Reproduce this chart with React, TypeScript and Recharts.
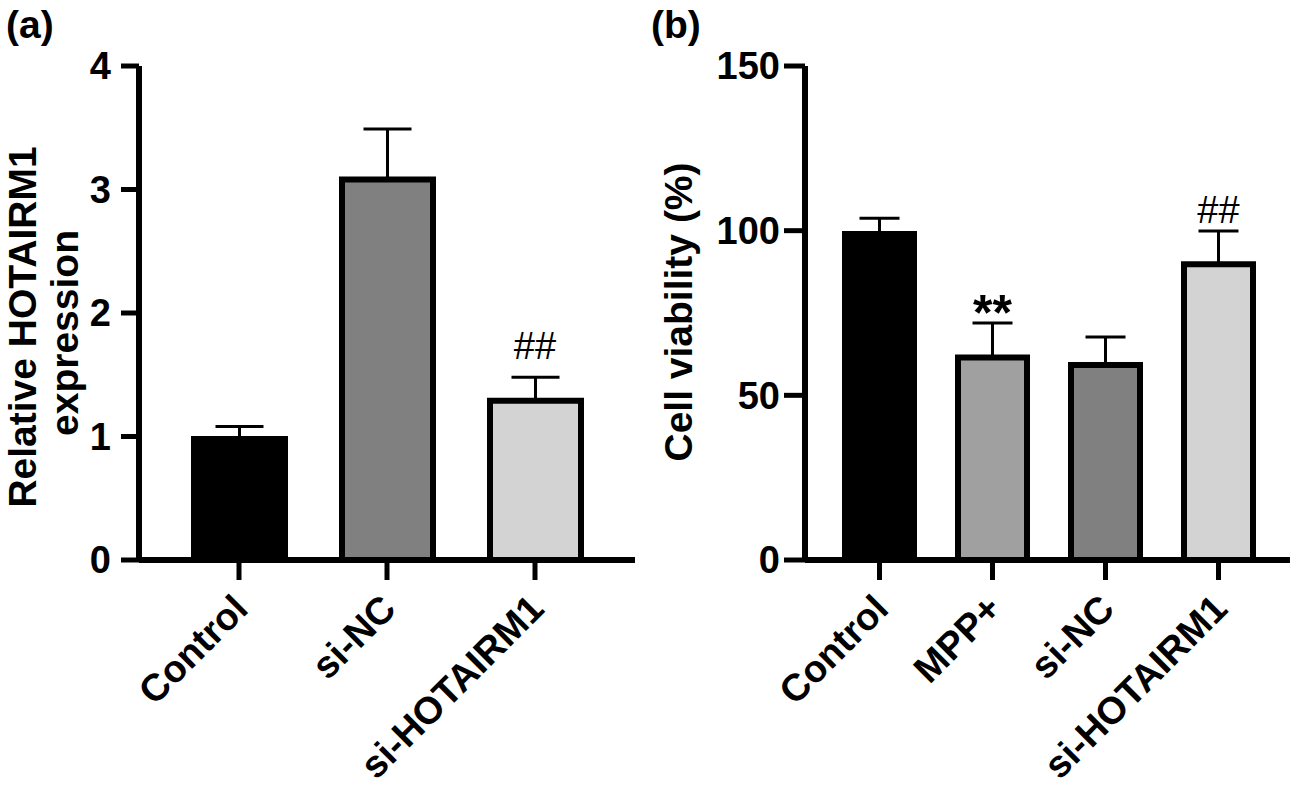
import React from 'react';
import { ComposedChart, Bar, Cell, ErrorBar, Line, XAxis, YAxis } from 'recharts';

const FONT = '"Liberation Sans", Arial, Helvetica, sans-serif';

// (a) relative HOTAIRM1 expression
const expressionGroups = ['Control', 'si-NC', 'si-HOTAIRM1'];
const expressionMeans = [0.98, 3.08, 1.29];
const expressionErrors = [0.1, 0.41, 0.19];
const expressionFills = ['#000000', '#808080', '#d3d3d3'];
const expressionMarks = ['', '', '##'];
const expressionMarkAt = [null, null, 1.63];
const expressionTicks = [0, 1, 2, 3, 4];

// (b) cell viability
const viabilityGroups = ['Control', 'MPP+', 'si-NC', 'si-HOTAIRM1'];
const viabilityMeans = [99, 61.5, 59.2, 89.8];
const viabilityErrors = [4.8, 10.5, 8.5, 10.1];
const viabilityFills = ['#000000', '#a0a0a0', '#808080', '#d3d3d3'];
const viabilityMarks = ['', '**', '', '##'];
const viabilityMarkAt = [null, 69.9, null, 102.2];
const viabilityTicks = [0, 50, 100, 150];

const buildRows = (groups: string[], means: number[], errors: number[], marks: string[], markAt: (number | null)[]) =>
  groups.map((group, i) => ({
    group,
    mean: means[i],
    err: [0, errors[i]],
    mark: marks[i],
    markAt: markAt[i],
  }));

const expressionData = buildRows(expressionGroups, expressionMeans, expressionErrors, expressionMarks, expressionMarkAt);
const viabilityData = buildRows(viabilityGroups, viabilityMeans, viabilityErrors, viabilityMarks, viabilityMarkAt);

const AngledTick = (props: any) => {
  const { x, y, payload } = props;
  const tx = x + 11;
  const ty = y + 29;
  return (
    <text
      x={tx}
      y={ty}
      transform={`rotate(-45 ${tx} ${ty})`}
      textAnchor="end"
      fontFamily={FONT}
      fontWeight="bold"
      fontSize={38}
      fill="#000"
    >
      {payload.value}
    </text>
  );
};

const renderMark = (props: any) => {
  const { cx, cy, payload, index } = props;
  if (cy == null || !payload || !payload.mark) return <g key={`m-${index}`} />;
  const star = payload.mark.includes('*');
  return (
    <text
      key={`m-${index}`}
      x={cx}
      y={cy}
      textAnchor="middle"
      fontFamily={FONT}
      fontSize={star ? 50 : 38}
      fontWeight={star ? 'bold' : 'normal'}
      fill="#000"
    >
      {payload.mark}
    </text>
  );
};

const tickStyle = { fill: '#000', fontSize: 38, fontWeight: 'bold' as const, fontFamily: FONT };

const axisTitle = (lines: { text: string; x: number; y: number }[]) => (props: any) => {
  const { viewBox } = props;
  const ox = viewBox ? viewBox.x : 0;
  return (
    <g>
      {lines.map((l) => (
        <text
          key={l.text}
          x={ox + l.x}
          y={l.y}
          transform={`rotate(-90 ${ox + l.x} ${l.y})`}
          textAnchor="middle"
          fontFamily={FONT}
          fontWeight="bold"
          fontSize={39}
          fill="#000"
        >
          {l.text}
        </text>
      ))}
    </g>
  );
};

export default function App() {
  return (
    <div style={{ position: 'absolute', left: 0, top: 0, width: 1301, height: 794, background: '#fff', fontFamily: FONT }}>
      <div style={{ position: 'absolute', left: 6, top: 3, fontSize: 39, fontWeight: 'bold' }}>(a)</div>
      <div style={{ position: 'absolute', left: 651, top: 3, fontSize: 39, fontWeight: 'bold' }}>(b)</div>

      <div style={{ position: 'absolute', left: 0, top: 0 }}>
        <ComposedChart width={650} height={794} data={expressionData} margin={{ top: 66, right: 15, left: 0, bottom: 0 }}>
          <XAxis
            dataKey="group"
            height={234}
            padding={{ left: 26, right: 26 }}
            axisLine={{ stroke: '#000', strokeWidth: 6 }}
            tickLine={{ stroke: '#000', strokeWidth: 5 }}
            tickSize={20}
            tick={<AngledTick />}
            interval={0}
          />
          <YAxis
            width={139}
            domain={[0, 4]}
            ticks={expressionTicks}
            axisLine={{ stroke: '#000', strokeWidth: 6 }}
            tickLine={{ stroke: '#000', strokeWidth: 5 }}
            tickSize={18}
            tickMargin={10}
            tick={tickStyle}
            label={axisTitle([
              { text: 'Relative HOTAIRM1', x: 36, y: 327 },
              { text: 'expression', x: 78, y: 333 },
            ])}
          />
          <Bar dataKey="mean" barSize={91} stroke="#000" strokeWidth={6} isAnimationActive={false}>
            {expressionData.map((d, i) => (
              <Cell key={d.group} fill={expressionFills[i]} />
            ))}
            <ErrorBar dataKey="err" width={24} stroke="#000" strokeWidth={3} direction="y" />
          </Bar>
          <Line dataKey="markAt" stroke="none" dot={renderMark} activeDot={false} isAnimationActive={false} />
        </ComposedChart>
      </div>

      <div style={{ position: 'absolute', left: 650, top: 0 }}>
        <ComposedChart width={651} height={794} data={viabilityData} margin={{ top: 66, right: 11, left: 0, bottom: 0 }}>
          <XAxis
            dataKey="group"
            height={234}
            padding={{ left: 18, right: 15 }}
            axisLine={{ stroke: '#000', strokeWidth: 6 }}
            tickLine={{ stroke: '#000', strokeWidth: 5 }}
            tickSize={20}
            tick={<AngledTick />}
            interval={0}
          />
          <YAxis
            width={155}
            domain={[0, 150]}
            ticks={viabilityTicks}
            axisLine={{ stroke: '#000', strokeWidth: 6 }}
            tickLine={{ stroke: '#000', strokeWidth: 5 }}
            tickSize={21}
            tickMargin={4}
            tick={tickStyle}
            label={axisTitle([{ text: 'Cell viability (%)', x: 42, y: 312 }])}
          />
          <Bar dataKey="mean" barSize={69} stroke="#000" strokeWidth={6} isAnimationActive={false}>
            {viabilityData.map((d, i) => (
              <Cell key={d.group} fill={viabilityFills[i]} />
            ))}
            <ErrorBar dataKey="err" width={20} stroke="#000" strokeWidth={3} direction="y" />
          </Bar>
          <Line dataKey="markAt" stroke="none" dot={renderMark} activeDot={false} isAnimationActive={false} />
        </ComposedChart>
      </div>
    </div>
  );
}
